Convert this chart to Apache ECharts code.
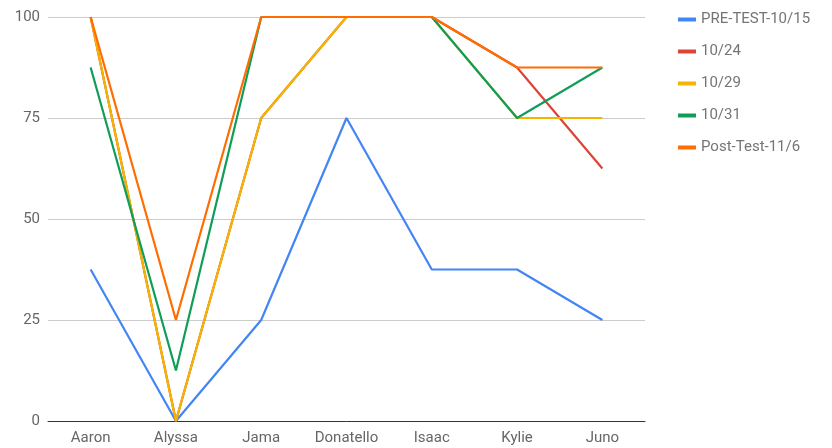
<!DOCTYPE html>
<html><head><meta charset="utf-8">
<script src="https://cdn.jsdelivr.net/npm/echarts@6/dist/echarts.min.js"></script>
<style>html,body{margin:0;padding:0;background:#fff}#c{width:832px;height:448px}</style>
</head><body><div id="c"></div>
<script>
const categories = ["Aaron","Alyssa","Jama","Donatello","Isaac","Kylie","Juno"];
const seriesNames = ["PRE-TEST-10/15","10/24","10/29","10/31","Post-Test-11/6"];
const preTest = [37.5,0,25,75,37.5,37.5,25];
const d1024 = [100,0,75,100,100,87.5,62.5];
const d1029 = [100,0,75,100,100,75,75];
const d1031 = [87.5,12.5,100,100,100,75,87.5];
const postTest = [100,25,100,100,100,87.5,87.5];
const yTicks = [0,25,50,75,100];
const colors = ["#4285F4","#DB4437","#F4B400","#0F9D58","#FF6D00"];
const allData = [preTest,d1024,d1029,d1031,postTest];

const chart = echarts.init(document.getElementById('c'));
chart.setOption({
  animation:false,
  color:colors,
  grid:{left:48,right:187,top:17,bottom:27,containLabel:false},
  legend:{orient:'vertical',left:673,top:7,itemWidth:18,itemHeight:4,itemGap:17,
    icon:'rect',textStyle:{fontFamily:'Roboto',fontSize:15,color:'#757575'},
    data:seriesNames},
  xAxis:{type:'category',data:categories,boundaryGap:true,
    axisLine:{lineStyle:{color:'#333',width:1}},axisTick:{show:false},
    axisLabel:{fontFamily:'Roboto',fontSize:15,color:'#666',margin:10}},
  yAxis:{type:'value',min:yTicks[0],max:yTicks[yTicks.length-1],interval:25,
    axisLine:{show:false},axisTick:{show:false},
    splitLine:{lineStyle:{color:'#ccc'}},
    axisLabel:{fontFamily:'Roboto',fontSize:15,color:'#666',margin:8}},
  series:seriesNames.map((n,i)=>({name:n,type:'line',data:allData[i],
    symbol:'none',lineStyle:{width:2.2,color:colors[i]},itemStyle:{color:colors[i]}}))
});
</script></body></html>
